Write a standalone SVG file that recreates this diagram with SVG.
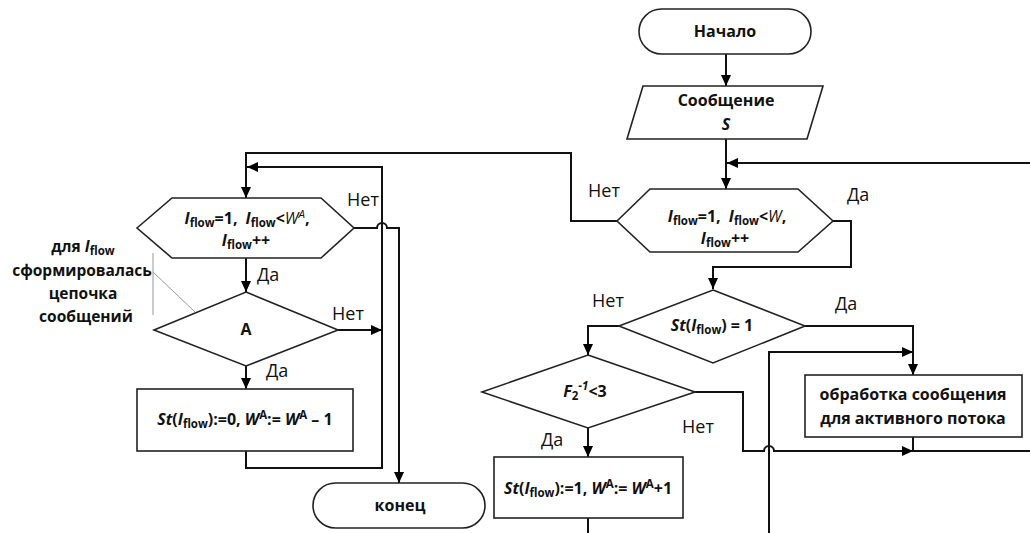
<svg xmlns="http://www.w3.org/2000/svg" width="1030" height="533" viewBox="0 0 1030 533">
<defs>
<marker id="ah" markerWidth="12" markerHeight="12" refX="11" refY="5" orient="auto" markerUnits="userSpaceOnUse">
<path d="M0,0 L11,5 L0,10 Z" fill="#000"/>
</marker>
<style>
.sh{fill:#fff;stroke:#222;stroke-width:1.6}
.cn{fill:none;stroke:#111;stroke-width:2}
.ar{marker-end:url(#ah)}
.gr{fill:none;stroke:#999;stroke-width:1}
text{font-family:"Open Sans","Noto Sans","DejaVu Sans",sans-serif;fill:#111}
.b{font-weight:bold;font-size:16px}
.l{font-size:18px}
.i{font-style:italic}
.n{font-weight:normal}
.sub{font-size:11.5px}
.nt{font-size:15.5px}
</style>
</defs>
<rect width="1030" height="533" fill="#fff"/>

<g id="connectors">
<path class="cn ar" d="M726,54 V86"/>
<path class="cn ar" d="M726,139 V189"/>
<path class="cn ar" d="M1030,163 H727"/>
<path class="cn ar" d="M617,221 H571 V153 H246 V198"/>
<path class="cn ar" d="M833,221 H851 V267 H713 V289"/>
<path class="cn ar" d="M619,326 H588 V355"/>
<path class="cn ar" d="M805,326 H913 V375"/>
<path class="cn ar" d="M769,533 V352 H913"/>
<path class="cn ar" d="M695,392 H743 V451 H764 A5,5 0 0 1 774,451 H913"/>
<path class="cn" d="M913,437 V451 H1030"/>
<path class="cn ar" d="M588,428 V457"/>
<path class="cn" d="M588,518 V533"/>
<path class="cn ar" d="M246,257 V292"/>
<path class="cn ar" d="M246,366 V389"/>
<path class="cn ar" d="M338,330 H382"/>
<path class="cn ar" d="M246,451 V468 H382 V167 H247"/>
<path class="cn ar" d="M354,228 H377 A5,5 0 0 1 387,228 H399 V483"/>
<path class="gr" d="M153,253 V315 M153,272 L195,312"/>
<text class="l" x="347" y="206">Нет</text>
<text class="l" x="257" y="281">Да</text>
<text class="l" x="332" y="320">Нет</text>
<text class="l" x="266" y="377">Да</text>
<text class="l" x="588" y="197">Нет</text>
<text class="l" x="847" y="201">Да</text>
<text class="l" x="592" y="307">Нет</text>
<text class="l" x="835" y="310">Да</text>
<text class="l" x="682" y="433">Нет</text>
<text class="l" x="541" y="446">Да</text>
</g>

<g id="start">
<rect class="sh" x="639" y="9" width="172" height="45" rx="22.5"/>
<text class="b" x="725" y="37" text-anchor="middle">Начало</text>
</g>

<g id="input">
<path class="sh" d="M643,86 H823 L807,139 H627 Z"/>
<text class="b" x="726" y="106" text-anchor="middle">Сообщение</text>
<text class="b i" x="726" y="130" text-anchor="middle">S</text>
</g>

<g id="loop-right">
<path class="sh" d="M617,221 L650,189 H798 L833,221 L798,252 H650 Z"/>
<text class="b" x="727" y="222" text-anchor="middle"><tspan class="i">I</tspan><tspan class="sub" dy="3">flow</tspan><tspan dy="-3">=1, </tspan><tspan class="i" dx="4">I</tspan><tspan class="sub" dy="3">flow</tspan><tspan dy="-3">&lt;</tspan><tspan class="i n">W</tspan><tspan>,</tspan></text>
<text class="b" x="725" y="244" text-anchor="middle"><tspan class="i">I</tspan><tspan class="sub" dy="3">flow</tspan><tspan dy="-3">++</tspan></text>
</g>

<g id="check-st">
<path class="sh" d="M713,290 L805,326 L713,363 L619,326 Z"/>
<text class="b" x="712" y="331" text-anchor="middle"><tspan class="i">St</tspan>(<tspan class="i">I</tspan><tspan class="sub" dy="3">flow</tspan><tspan dy="-3">) = 1</tspan></text>
</g>

<g id="check-f2">
<path class="sh" d="M588,355 L695,392 L588,428 L482,392 Z"/>
<text class="b" x="585" y="397" text-anchor="middle"><tspan class="i">F</tspan><tspan class="sub" dy="3">2</tspan><tspan class="sub i" dy="-10">-1</tspan><tspan dy="7">&lt;3</tspan></text>
</g>

<g id="set-active">
<rect class="sh" x="494" y="457" width="189" height="61"/>
<text class="b" x="588" y="494" text-anchor="middle"><tspan class="i">St</tspan>(<tspan class="i">I</tspan><tspan class="sub" dy="3">flow</tspan><tspan dy="-3">):=1, </tspan><tspan class="i">W</tspan><tspan class="sub" dy="-6">A</tspan><tspan dy="6">:= </tspan><tspan class="i">W</tspan><tspan class="sub" dy="-6">A</tspan><tspan dy="6">+1</tspan></text>
</g>

<g id="process">
<rect class="sh" x="805" y="375" width="217" height="62"/>
<text class="b" x="913" y="400" text-anchor="middle">обработка сообщения</text>
<text class="b" x="913" y="424" text-anchor="middle">для активного потока</text>
</g>

<g id="loop-left">
<path class="sh" d="M137,228 L172,198 H321 L354,228 L321,258 H172 Z"/>
<text class="b" x="247" y="224" text-anchor="middle"><tspan class="i">I</tspan><tspan class="sub" dy="3">flow</tspan><tspan dy="-3">=1, </tspan><tspan class="i" dx="4">I</tspan><tspan class="sub" dy="3">flow</tspan><tspan dy="-3">&lt;</tspan><tspan class="i n">W</tspan><tspan class="i n sub" dy="-6">A</tspan><tspan dy="6">,</tspan></text>
<text class="b" x="246" y="246" text-anchor="middle"><tspan class="i">I</tspan><tspan class="sub" dy="3">flow</tspan><tspan dy="-3">++</tspan></text>
</g>

<g id="note">
<text class="b nt" x="83" y="252" text-anchor="middle">для <tspan class="i">I</tspan><tspan class="sub" dy="3">flow</tspan></text>
<text class="b nt" x="82" y="276" text-anchor="middle">сформировалась</text>
<text class="b nt" x="83" y="299" text-anchor="middle">цепочка</text>
<text class="b nt" x="86" y="322" text-anchor="middle">сообщений</text>
</g>

<g id="check-a">
<path class="sh" d="M246,292 L338,330 L246,366 L154,330 Z"/>
<text class="b" x="246" y="335" text-anchor="middle">A</text>
</g>

<g id="reset">
<rect class="sh" x="137" y="389" width="216" height="62"/>
<text class="b" x="245" y="425" text-anchor="middle"><tspan class="i">St</tspan>(<tspan class="i">I</tspan><tspan class="sub" dy="3">flow</tspan><tspan dy="-3">):=0, </tspan><tspan class="i">W</tspan><tspan class="sub" dy="-6">A</tspan><tspan dy="6">:= </tspan><tspan class="i">W</tspan><tspan class="sub" dy="-6">A</tspan><tspan dy="6"> – 1</tspan></text>
</g>

<g id="end">
<rect class="sh" x="313" y="483" width="172" height="45" rx="22.5"/>
<text class="b" x="400" y="511" text-anchor="middle">конец</text>
</g>
</svg>
